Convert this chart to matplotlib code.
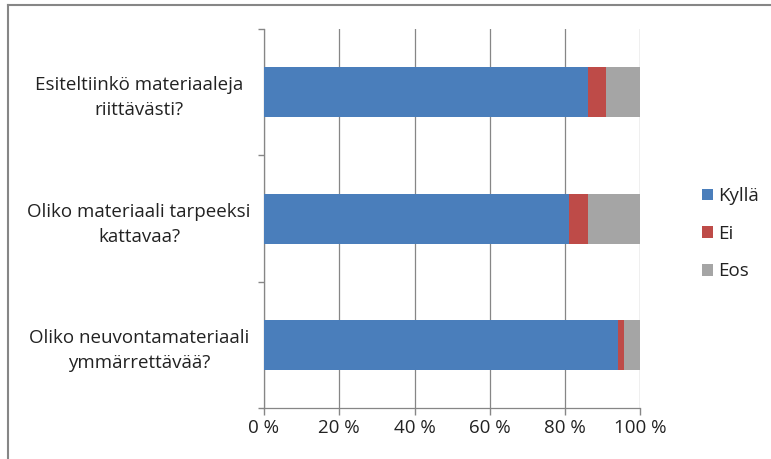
import matplotlib
matplotlib.use("Agg")
import matplotlib.pyplot as plt
from matplotlib.lines import Line2D
import numpy as np

plt.rcParams['font.family'] = ['Open Sans', 'DejaVu Sans']

categories = ["Esiteltiinkö materiaaleja\nriittävästi?",
              "Oliko materiaali tarpeeksi\nkattavaa?",
              "Oliko neuvontamateriaali\nymmärrettävää?"]
series_names = ["Kyllä", "Ei", "Eos"]
kylla = [86, 81, 94]
ei = [5, 5, 1.6]
eos = [9, 14, 4.4]
colors = ["#4a7ebb", "#be4b48", "#a5a5a5"]
xticks = [0, 20, 40, 60, 80, 100]
xticklabels = ["0 %", "20 %", "40 %", "60 %", "80 %", "100 %"]

W, H = 771, 459
FS = 13.5
fig = plt.figure(figsize=(W / 100, H / 100), dpi=100)
ax = fig.add_axes([264 / W, (H - 408.3) / H, 376.3 / W, 379.3 / H])

ypos = np.arange(len(categories))[::-1]
left = np.zeros(len(categories))
for name, vals, c in zip(series_names, [kylla, ei, eos], colors):
    ax.barh(ypos, vals, left=left, height=0.395, color=c, label=name, zorder=3)
    left = left + np.array(vals)

ax.set_xlim(0, 100)
ax.set_ylim(-0.5, 2.5)
ax.set_xticks(xticks)
ax.set_xticklabels(xticklabels, fontsize=FS, color='#222222')
ax.set_yticks(ypos)
ax.set_yticklabels(categories, fontsize=FS, ha='center', multialignment='center',
                   color='#222222')
for lab in ax.get_yticklabels():
    lab.set_linespacing(1.5)
ax.set_yticks([-0.5, 0.5, 1.5, 2.5], minor=True)
ax.tick_params(axis='y', which='major', length=0, pad=90)
ax.tick_params(axis='y', which='minor', length=4, width=1, color='#868686', direction='out')
ax.tick_params(axis='x', length=5, width=1, color='#868686', pad=3)

ax.grid(axis='x', color='#868686', linewidth=0.9, zorder=0)
for s in ['top', 'right']:
    ax.spines[s].set_visible(False)
for s in ['left', 'bottom']:
    ax.spines[s].set_color('#868686')
    ax.spines[s].set_linewidth(0.9)

leg = ax.legend(loc='upper left', bbox_to_anchor=(702 / W, 1 - 187 / H),
                bbox_transform=fig.transFigure, frameon=False, fontsize=FS,
                handlelength=0.58, handleheight=0.58, handletextpad=0.3,
                labelspacing=1.05, borderpad=0, borderaxespad=0)
for t in leg.get_texts():
    t.set_color('#222222')

fig.add_artist(Line2D([7.5 / W, 7.5 / W], [0, 1 - 5 / H], transform=fig.transFigure,
                      color='#868686', linewidth=1.5))
fig.add_artist(Line2D([7.5 / W, 1], [1 - 5 / H, 1 - 5 / H], transform=fig.transFigure,
                      color='#868686', linewidth=1.5))

fig.savefig("out.png", dpi=100)
